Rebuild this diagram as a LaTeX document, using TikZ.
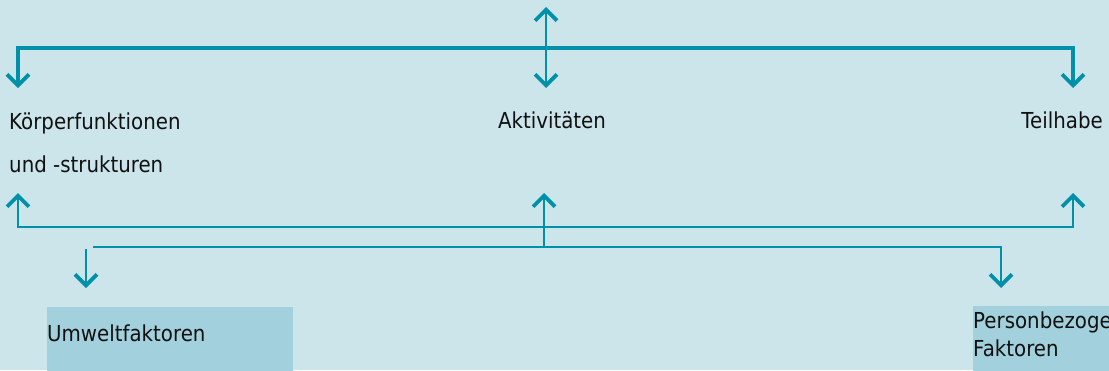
\documentclass[tikz,border=0pt]{standalone}
\usepackage{fontspec}
\setmainfont{DejaVu Sans}[FakeStretch=0.9]
\usetikzlibrary{arrows.meta}
\definecolor{bg}{HTML}{CBE5EB}
\definecolor{ln}{HTML}{0090A8}
\definecolor{boxc}{HTML}{A2D0DC}
\definecolor{txt}{HTML}{111111}
\tikzset{
  lbl/.style={inner sep=0pt, font=\fontsize{22}{26}\selectfont, text=txt},
  conn/.style={draw=ln, line width=2.8pt, line join=miter},
  tipb/.tip={Straight Barb[length=11pt,width=22pt,line width=3.8pt]},
  barb/.style={-tipb},
  dbarb/.style={tipb-tipb},
  boxfill/.style={fill=boxc, draw=none, inner sep=0pt}
}
\begin{document}
\begin{tikzpicture}[x=1pt,y=-1pt]
\clip (0,0) rectangle (1109,370);
\fill[bg] (0,0) rectangle (1109,370);
% boxes
\node[boxfill, anchor=north west, minimum width=246pt, minimum height=70pt] (umwbox) at (47,307) {};
\node[boxfill, anchor=north west, minimum width=150pt, minimum height=70pt] (perbox) at (973,306) {};
% labels
\node[lbl, anchor=base west] (kf1) at (9,129) {Körperfunktionen};
\node[lbl, anchor=base west] (kf2) at (9,172) {und -strukturen};
\node[lbl, anchor=base] (akt) at (552,128) {Aktivitäten};
\node[lbl, anchor=base east] (teil) at (1103,128) {Teilhabe};
\node[lbl, anchor=base west] (umw) at (47,341) {Umweltfaktoren};
\node[lbl, anchor=base west] (per1) at (973,328) {Personbezogene};
\node[lbl, anchor=base west] (per2) at (973,356) {Faktoren};
% coordinates
\coordinate (a1) at (18,88);
\coordinate (a2) at (18,48);
\coordinate (a3) at (1073,48);
\coordinate (a4) at (1073,88);
\coordinate (m1) at (546,7);
\coordinate (m2) at (546,88);
\coordinate (b1) at (18,193);
\coordinate (b2) at (18,227);
\coordinate (b3) at (1073,227);
\coordinate (b4) at (1073,193);
\coordinate (mb1) at (544,247);
\coordinate (mb2) at (544,193);
\coordinate (c1) at (93,247);
\coordinate (c2) at (1001,247);
\coordinate (c3) at (1001,288);
\coordinate (d1) at (86,249);
\coordinate (d2) at (86,288);
% connectors
\draw[conn, line width=3.2pt, dbarb] (a1) -- (a2) -- (a3) -- (a4);
\draw[conn, dbarb] (m1) -- (m2);
\draw[conn, dbarb] (b1) -- (b2) -- (b3) -- (b4);
\draw[conn, barb] (mb1) -- (mb2);
\draw[conn, barb] (c1) -- (c2) -- (c3);
\draw[conn, barb] (d1) -- (d2);
\end{tikzpicture}
\end{document}
